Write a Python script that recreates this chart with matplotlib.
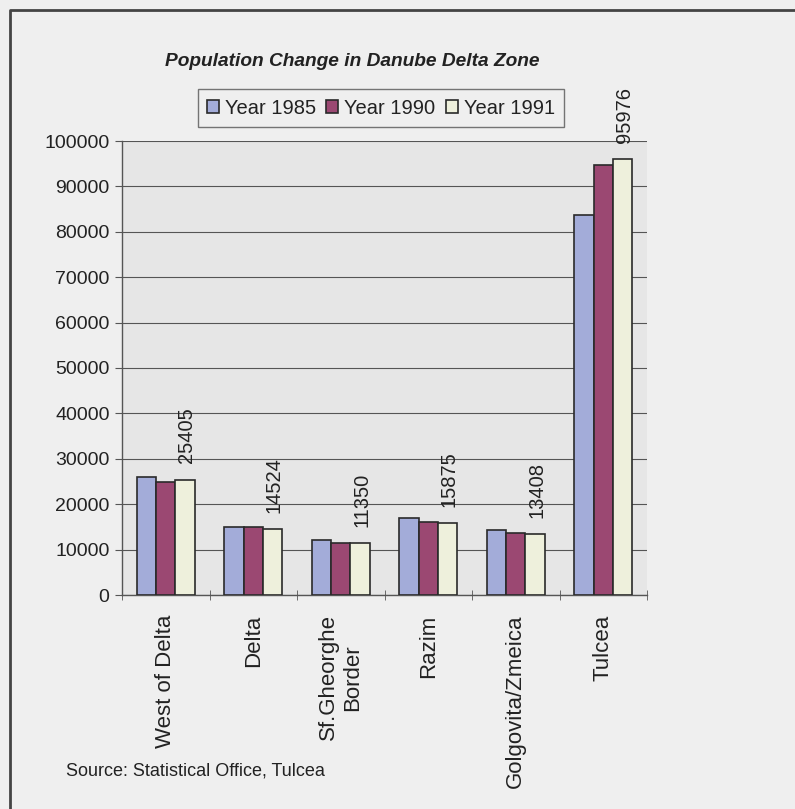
import numpy as np
import matplotlib
matplotlib.use("Agg")
import matplotlib.pyplot as plt
from matplotlib.lines import Line2D

plt.rcParams['font.family'] = ['Liberation Sans', 'DejaVu Sans']

# datos
zonas = ["West of Delta", "Delta", "Sf.Gheorghe\nBorder", "Razim",
         "Golgovita/Zmeica", "Tulcea"]
anio_1985 = [26100, 14950, 12050, 16900, 14250, 83800]
anio_1990 = [25000, 14900, 11400, 16100, 13550, 94800]
anio_1991 = [25405, 14524, 11350, 15875, 13408, 95976]
series = ["Year 1985", "Year 1990", "Year 1991"]
ticks_y = np.arange(0, 100001, 10000)

colores = ['#a3acd9', '#9b4872', '#eef0dc']
fondo = '#efefef'

fig = plt.figure(figsize=(7.95, 8.09), dpi=100, facecolor=fondo)
ax = fig.add_axes([122/795, 1 - 595/809, 525/795, 454/809])
ax.set_facecolor('#e6e6e6')

x = np.arange(len(zonas))
w = 1/4.5
valores = [anio_1985, anio_1990, anio_1991]
for i, (vals, col, nombre) in enumerate(zip(valores, colores, series)):
    ax.bar(x + (i - 1)*w, vals, width=w, color=col, edgecolor='#2a2a2a',
           linewidth=1.2, label=nombre, zorder=3)

# etiquetas de 1991
for xi, v in zip(x, anio_1991):
    ax.text(xi + w + 0.02, v + 3600, str(v), rotation=90, ha='center',
            va='bottom', fontsize=14.5, color='#222222', zorder=4)

ax.set_xlim(-0.5, len(zonas) - 0.5)
ax.set_ylim(0, 100000)
ax.set_yticks(ticks_y)
ax.set_yticklabels([str(t) for t in ticks_y], fontsize=14, color='#222222')
ax.yaxis.grid(True, color='#555555', linewidth=0.8, zorder=1)
ax.set_axisbelow(True)

ax.set_xticks(x)
ax.set_xticklabels(zonas, rotation=90, fontsize=16, color='#222222',
                   va='top', ha='center', multialignment='center')
ax.tick_params(axis='x', length=0, pad=14)
ax.set_xticks(np.arange(-0.5, len(zonas)), minor=True)
ax.tick_params(axis='x', which='minor', length=7, direction='inout',
               color='#555555')
ax.tick_params(axis='y', length=5, color='#555555', pad=4)

for s in ['top', 'right']:
    ax.spines[s].set_visible(False)
for s in ['left', 'bottom']:
    ax.spines[s].set_color('#555555')
    ax.spines[s].set_linewidth(1.0)

fig.text(352/795, 1 - 62/809, "Population Change in Danube Delta Zone",
         ha='center', va='center', fontsize=13.8, fontweight='bold',
         fontstyle='italic', color='#222222')

leg = fig.legend(loc='center', bbox_to_anchor=(381/795, 1 - 108/809),
                 ncol=3, fontsize=14.5, frameon=True, fancybox=False,
                 handlelength=0.6, handleheight=0.6, handletextpad=0.3,
                 columnspacing=0.5, borderpad=0.45, edgecolor='#555555')
leg.get_frame().set_facecolor(fondo)
leg.get_frame().set_linewidth(1.0)
for t in leg.get_texts():
    t.set_color('#222222')

fig.text(66/795, 1 - 771/809, "Source: Statistical Office, Tulcea",
         ha='left', va='center', fontsize=13, color='#222222')

# marco exterior
fig.add_artist(Line2D([10/795, 10/795, 1], [0, 1 - 10/809, 1 - 10/809],
                      transform=fig.transFigure, color='#444444', lw=2))

fig.savefig("out.png", dpi=100, facecolor=fondo)
